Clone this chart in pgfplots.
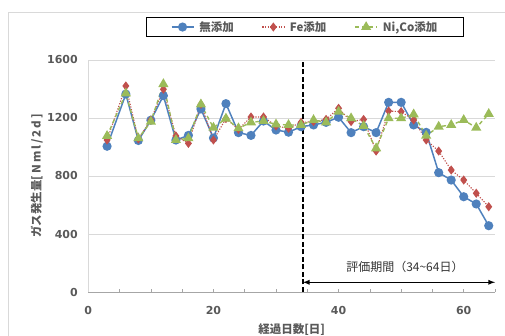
\documentclass[border=0pt]{standalone}
\usepackage{fontspec}
\setmainfont{Noto Sans CJK JP}
\newfontfamily\dvs{DejaVu Sans}
\usepackage{pgfplots}
\pgfplotsset{compat=1.18}
\definecolor{cblue}{HTML}{4F81BD}
\definecolor{cred}{HTML}{C0504D}
\definecolor{cgreen}{HTML}{9BBB59}
\definecolor{tgray}{HTML}{595959}
\definecolor{ggray}{HTML}{D9D9D9}
\pgfplotstableread{
x blue red green
3 1005 1048 1076
6 1365 1421 1370
8 1045 1055 1060
10 1185 1186 1175
12 1354 1398 1434
14 1048 1076 1048
16 1080 1025 1060
18 1262 1294 1294
20 1062 1048 1133
22 1299 1196 1196
24 1099 1122 1129
26 1080 1207 1170
28 1179 1207 1179
30 1117 1145 1156
32 1102 1129 1152
34 1140 1170 1152
36 1152 1175 1186
38 1170 1190 1170
40 1205 1267 1244
42 1099 1175 1198
44 1140 1190 1145
46 1099 972 991
48 1308 1248 1198
50 1308 1244 1198
52 1152 1186 1225
54 1101 1048 1078
56 823 972 1140
58 772 841 1152
60 657 772 1186
62 607 681 1133
64 457 588 1228
}\data
\begin{document}
\begin{tikzpicture}
\path[use as bounding box] (-88.3pt,-44pt) rectangle (416.7pt,292pt);
\draw[ggray, line width=0.8pt] (-80.3pt,-60pt) -- (-80.3pt,280pt) -- (430pt,280pt);
\begin{axis}[
  at={(0pt,0pt)}, anchor=south west, scale only axis,
  width=406.7pt, height=232pt,
  xmin=0, xmax=65, ymin=0, ymax=1600,
  xtick={0,20,40,60}, xticklabels={0,20,40,60},
  minor xtick={5,10,15,25,30,35,45,50,55,65},
  ytick={0,400,800,1200,1600}, yticklabels={0,400,800,1200,1600},
  axis x line*=bottom, axis y line*=left,
  x axis line style={draw=gray!70, line width=0.8pt},
  y axis line style={draw=ggray, line width=0.8pt},
  tick align=inside, major tick length=3pt, minor tick length=3pt,
  xtick style={draw=gray!70, line width=0.6pt},
  minor tick style={draw=gray!70, line width=0.6pt},
  ytick style={draw=none},
  ymajorgrids, grid style={ggray, line width=0.8pt},
  tick label style={font=\dvs\bfseries\fontsize{11}{12}\selectfont, text=tgray},
  yticklabel style={xshift=-7pt},
  xticklabel style={yshift=-11pt},
  xlabel={経過日数[日]},
  ylabel={ガス発生量{\addfontfeature{LetterSpace=18}[Nml/2d\,]}},
  label style={font=\bfseries\fontsize{11.5}{12}\selectfont, text=tgray},
  xlabel style={at={(axis description cs:0.5,-0.164)}, anchor=center},
  ylabel style={at={(axis description cs:-0.127,0.5)}, anchor=center},
  clip=false,
  legend columns=3,
  legend image code/.code={\draw[mark repeat=2,mark phase=2,#1] plot coordinates {(0pt,0pt) (11pt,0pt) (22pt,0pt)};},
  legend style={at={(axis description cs:0.533,1.142)}, anchor=center,
    draw=black, line width=0.9pt, fill=white,
    font=\bfseries\fontsize{11.5}{12}\selectfont, text=tgray,
    inner xsep=24pt, inner ysep=1.5pt,
    /tikz/every even column/.append style={column sep=26pt},
    /tikz/every odd column/.append style={column sep=3pt}},
]
\addplot[cblue, line width=1.5pt, mark=*, mark size=3.8pt, mark options={solid, fill=cblue, draw=cblue}] table[x=x, y=blue] {\data};
\addlegendentry{無添加}
\addplot[cred, line width=1.1pt, dash pattern=on 1.2pt off 1.5pt, mark=diamond*, mark size=3.7pt, mark options={solid, fill=cred, draw=cred}] table[x=x, y=red] {\data};
\addlegendentry{Fe添加}
\addplot[cgreen, line width=1.4pt, dash pattern=on 4pt off 3pt, mark=triangle*, mark size=4.5pt, mark options={solid, fill=cgreen, draw=cgreen}] table[x=x, y=green] {\data};
\addlegendentry{Ni,Co添加}
\addplot[black, line width=2pt, dash pattern=on 5pt off 2.5pt, forget plot] coordinates {(34.3,0) (34.3,1600)};
\addplot[black, line width=1.3pt, latex-latex, forget plot] coordinates {(34.3,67) (65,67)};
\node[font=\fontsize{12}{14}\selectfont, text=black!80] at (axis cs:50.6,174) {評価期間（34\textasciitilde64日）};
\end{axis}
\end{tikzpicture}
\end{document}
